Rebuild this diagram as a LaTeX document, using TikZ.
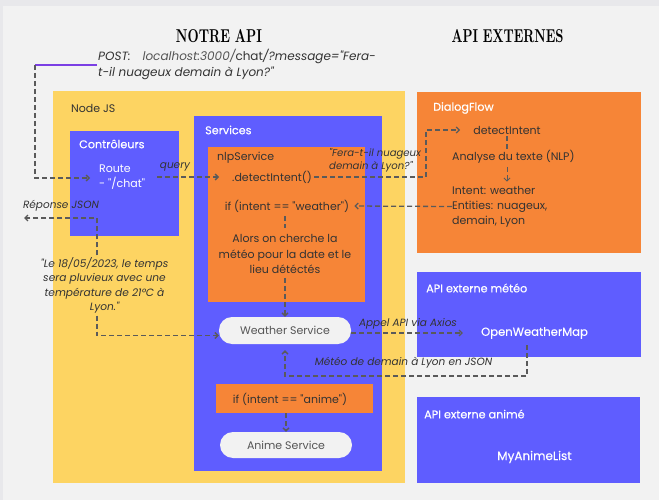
\documentclass[tikz,border=0pt]{standalone}
\usepackage{fontspec}
\usepackage{graphicx}
\newfontfamily\pop{Poppins}
\newfontfamily\popm[FakeBold=0.35]{Poppins}
\usetikzlibrary{arrows.meta}
\definecolor{bgcol}{HTML}{F2F2F2}
\definecolor{topcol}{HTML}{E8E8EB}
\definecolor{yel}{HTML}{FDD462}
\definecolor{blu}{HTML}{5F5DFF}
\definecolor{ora}{HTML}{F68537}
\definecolor{pillcol}{HTML}{F2F2F2}
\definecolor{txtdark}{HTML}{333333}
\definecolor{txtgray}{HTML}{555555}
\definecolor{linecol}{HTML}{5A5A5A}
\definecolor{purp}{HTML}{7B3FE4}
\begin{document}
\begin{tikzpicture}[x=1pt,y=-1pt,
  every node/.style={font=\pop\fontsize{11}{13}\selectfont, inner sep=0pt, text=txtdark},
  area/.style={anchor=north west, inner sep=0pt, outer sep=0pt},
  wlbl/.style={text=white, anchor=west, font=\popm\fontsize{11.2}{13}\selectfont},
  dlbl/.style={anchor=west},
  itl/.style={font=\pop\itshape\fontsize{10.5}{12}\selectfont},
  pill/.style={fill=pillcol, rounded corners=13pt, minimum width=132pt, text=txtgray},
  flow/.style={draw=linecol, line width=1.3pt, dash pattern=on 5pt off 3pt},
  arr/.style={flow, -{Straight Barb[length=3pt,width=6pt]}},
  ttl/.style={font=\rmfamily\bfseries, text=black},
]
\fill[bgcol] (0,0) rectangle (659,500);
\fill[topcol] (0,0) rectangle (659,6);
\fill[topcol] (0,0) rectangle (3,500);

% titles
\node[ttl] (t1) at (219,36) {\resizebox{86pt}{13pt}{NOTRE API}};
\node[ttl] (t2) at (507.5,36) {\resizebox{112pt}{13pt}{API EXTERNES}};

% POST request
\node[itl, font=\pop\itshape\fontsize{12}{14}\selectfont, anchor=base west] (post1) at (98,61) {POST:\quad{\color{txtgray}localhost:3000/}{\upshape chat}/?message="Fera-};
\node[itl, font=\pop\itshape\fontsize{12}{14}\selectfont, anchor=base west] (post2) at (98,76.5) {t-il nuageux demain à Lyon?"};

% areas
\node[area, fill=yel, minimum width=352pt, minimum height=392pt] (nodejs) at (53,91) {};
\node[area, fill=blu, minimum width=109pt, minimum height=105pt] (ctrl) at (70,131) {};
\node[area, fill=blu, minimum width=188pt, minimum height=355pt] (serv) at (194,116) {};
\node[area, fill=ora, minimum width=157pt, minimum height=155pt] (nlp) at (208,147) {};
\node[area, fill=ora, minimum width=224pt, minimum height=161pt] (df) at (417,92) {};
\node[area, fill=blu, minimum width=224pt, minimum height=85pt] (meteo) at (417,272) {};
\node[area, fill=blu, minimum width=223pt, minimum height=86pt] (anime) at (417,397) {};

% labels in areas
\node[dlbl] (nodejsl) at (71,108) {Node JS};
\node[wlbl] (ctrll) at (79,144) {Contrôleurs};
\node[wlbl] (servl) at (205,130) {Services};
\node[dlbl] (nlpl) at (217,158) {nlpService};
\node[wlbl] (dfl) at (433,108) {DialogFlow};
\node[wlbl] (meteol) at (426,288) {API externe météo};
\node[wlbl] (animel) at (424,414) {API externe animé};

% controller
\node[anchor=base west, text=white] (route) at (99,172) {Route};
\node[anchor=base west, text=white] (chat) at (99,187) {- "/chat"};

% nlp service
\node[anchor=west] (detect) at (232,177) {.detectIntent()};
\node (ifw) at (287,206) {if (intent == "weather")};
\node[align=center, font=\pop\fontsize{11}{15.5}\selectfont] (alors) at (285,254) {Alors on cherche la\\météo pour la date et le\\lieu détéctés};
\node[pill, minimum height=27pt] (ws) at (285,330.5) {Weather Service};
\node[area, fill=ora, minimum width=157pt, minimum height=29pt] (ifabox) at (216,384) {};
\node (ifa) at (290,399) {if (intent == "anime")};
\node[pill, minimum height=26pt] (as) at (286,445) {Anime Service};

% dialogflow
\node (dfdetect) at (507,130) {detectIntent};
\node[anchor=west] (analyse) at (452,157) {Analyse du texte (NLP)};
\node[anchor=west] (intent) at (452,190) {Intent: weather};
\node[anchor=west] (ent) at (452,206.5) {Entities: nuageux,};
\node[anchor=west] (dem) at (452,221.5) {demain, Lyon};

% external apis
\node[text=white, font=\popm\fontsize{11.6}{13}\selectfont] (owm) at (534.5,333) {OpenWeatherMap};
\node[text=white, font=\popm\fontsize{12}{14}\selectfont] (mal) at (534.5,457) {MyAnimeList};

% italic connector labels
\node[itl] (query) at (175,167) {query};
\node[itl, font=\pop\itshape\fontsize{10.1}{13}\selectfont, anchor=base west] (fera1) at (329,156.5) {"Fera-t-il nuageux};
\node[itl, font=\pop\itshape\fontsize{10.1}{13}\selectfont, anchor=base west] (fera2) at (329,169.5) {demain à Lyon?"};
\node[itl] (rep) at (61,206) {Réponse JSON};
\node[itl, align=center, font=\pop\itshape\fontsize{10.6}{14.3}\selectfont] (quote) at (104.5,285.5) {"Le 18/05/2023, le temps\\sera pluvieux avec une\\température de 21°C à\\Lyon."};
\node[itl] (appel) at (408,324) {Appel API via Axios};
\node[itl] (json) at (403.5,363) {Météo de demain à Lyon en JSON};

% coordinates
\coordinate (pc) at (35,65);
\coordinate (pe) at (97,65);
\coordinate (ra) at (90,178);
\coordinate (k1) at (426,150);
\coordinate (rj) at (24,218);
\coordinate (j1) at (527,376);
\coordinate (jt) at (527,345);

% connectors
\draw[purp, line width=1.5pt] (pe) -- (pc);
\draw[arr] (pc) |- (ra);
\draw[arr, shorten >=13pt] (chat.east |- detect.west) ++(12pt,0) -- (detect.west);
\draw[arr, shorten <=2pt, shorten >=13pt] (detect.east) -| (k1) |- (dfdetect.west);
\draw[flow] ([yshift=-2pt]dfdetect.south) -- (dfdetect.south |- analyse.north);
\draw[arr, line width=1pt] ([yshift=-3pt]analyse.south -| dfdetect.south) -- ([yshift=4pt]dfdetect.south |- intent.north);
\draw[arr, shorten >=5pt] (ent.west) -- (ifw.east);
\draw[flow, shorten <=4pt, shorten >=6pt] (ifw.south -| alors.north) -- (alors.north);
\draw[arr, shorten <=4pt] (alors.south) -- (ws.north);
\draw[arr, shorten <=2pt] ([xshift=-7.5pt]quote.north) |- (rj);
\draw[arr, shorten <=2pt] ([xshift=-7.5pt]quote.south) |- ([yshift=-5pt]ws.west);
\draw[arr, shorten >=18pt] ([yshift=-2.5pt]ws.east) -- ([yshift=-2.5pt]ws.east -| owm.west);
\draw[arr] (jt) -- (j1) -| ([yshift=-6pt]ws.south);
\draw[arr] (ifabox.south -| as.north) -- (as.north);
\end{tikzpicture}
\end{document}
